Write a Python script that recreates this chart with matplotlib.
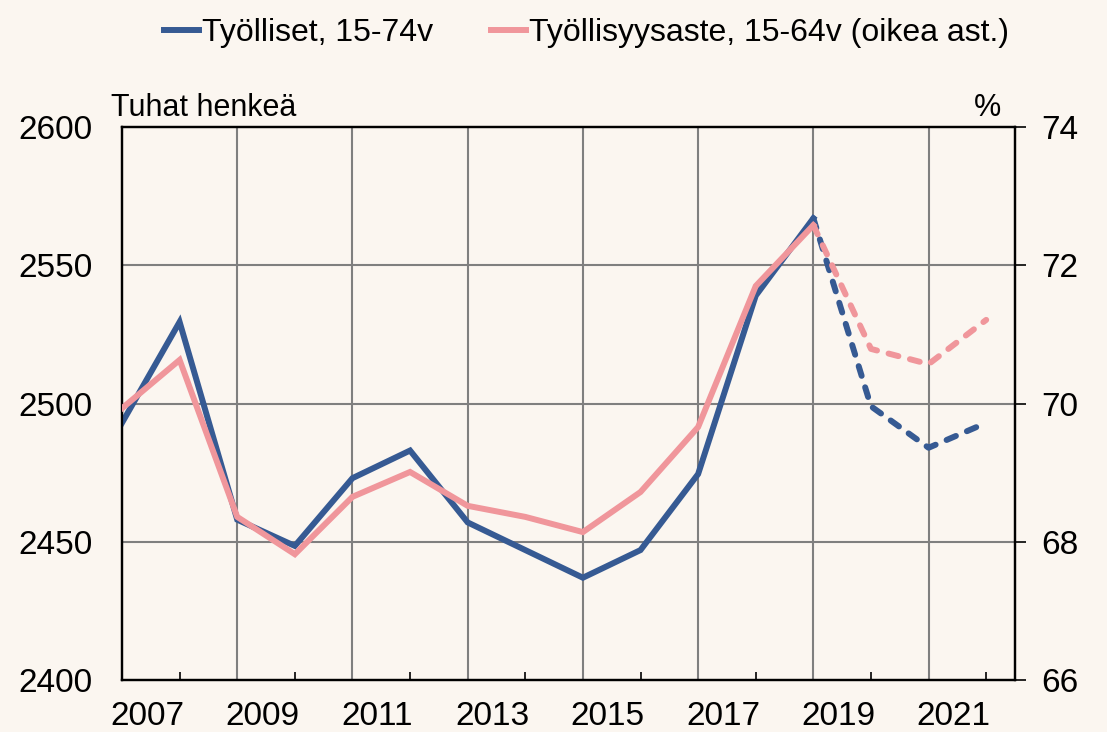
import matplotlib.pyplot as plt
import matplotlib.transforms as mtransforms

plt.rcParams['font.family'] = ['Liberation Sans', 'DejaVu Sans']

# data (annual, 2020-2022 forecast)
years = list(range(2007, 2023))
employed = [2493, 2529.5, 2458, 2448.5, 2473, 2483, 2457, 2447, 2437, 2447,
            2474.5, 2539, 2567, 2499, 2484, 2493]
emp_rate = [69.93, 70.63, 68.36, 67.82, 68.65, 69.01, 68.52, 68.36, 68.14, 68.72,
            69.66, 71.70, 72.58, 70.79, 70.57, 71.21]
forecast_start = 2019
label_years = list(range(2007, 2023, 2))

bg = '#FBF6F0'
blue = '#365A93'
pink = '#F0969B'
grid_col = '#7F7F7F'
fs = 24

fig = plt.figure(figsize=(11.07, 7.32), dpi=100, facecolor=bg)
ax = fig.add_axes([0.1102, 0.0710, 0.8067, 0.7555])
ax.set_facecolor(bg)
ax2 = ax.twinx()

i0 = years.index(forecast_start)
lw = 4.3
ax.plot(years[:i0 + 1], employed[:i0 + 1], color=blue, lw=lw, solid_joinstyle='miter', zorder=4)
ax.plot(years[i0:], employed[i0:], color=blue, lw=lw, ls=(0, (1.7, 2.0)),
        dash_capstyle='round', zorder=4)
ax2.plot(years[:i0 + 1], emp_rate[:i0 + 1], color=pink, lw=lw, solid_joinstyle='miter', zorder=3)
ax2.plot(years[i0:], emp_rate[i0:], color=pink, lw=lw, ls=(0, (1.7, 2.0)),
         dash_capstyle='round', zorder=3)

ax.set_xlim(2007, 2022.5)
ax.set_ylim(2400, 2600)
ax2.set_ylim(66, 74)
ax.set_yticks([2400, 2450, 2500, 2550, 2600])
ax2.set_yticks([66, 68, 70, 72, 74])

# grid
for y in [2450, 2500, 2550]:
    ax.axhline(y, color=grid_col, lw=1.5, zorder=1)
for x in range(2009, 2022, 2):
    ax.axvline(x, color=grid_col, lw=1.5, zorder=1)

ax.set_xticks(label_years)
ax.set_xticklabels([str(y) for y in label_years], fontsize=fs)
ax.set_xticks([y for y in years if y % 2 == 0], minor=True)
ax.tick_params(axis='x', which='major', length=0, pad=15)
ax.tick_params(axis='x', which='minor', direction='in', length=6, width=1.2, color='black')
offset = mtransforms.ScaledTranslation(0.25, 0, fig.dpi_scale_trans)
for lab in ax.get_xticklabels():
    lab.set_transform(lab.get_transform() + offset)

ax.tick_params(axis='y', length=0, pad=21, labelsize=fs)
ax2.tick_params(axis='y', direction='out', length=8, width=1.2, pad=11, labelsize=fs)

for a in (ax, ax2):
    for s in a.spines.values():
        s.set_color('black')
        s.set_linewidth(1.6)

ax.text(-0.012, 1.008, 'Tuhat henkeä', transform=ax.transAxes, fontsize=22,
        ha='left', va='bottom')
ax.text(0.984, 1.008, '%', transform=ax.transAxes, fontsize=22,
        ha='right', va='bottom')

handles = [plt.Line2D([], [], color=blue, lw=lw), plt.Line2D([], [], color=pink, lw=lw)]
fig.legend(handles, ['Työlliset, 15-74v', 'Työllisyysaste, 15-64v (oikea ast.)'],
           loc='upper left', bbox_to_anchor=(0.122, 1.015), ncol=2, frameon=False,
           fontsize=23, handlelength=1.1, handletextpad=0.1, columnspacing=1.8)

fig.savefig('out.png', dpi=100, facecolor=bg)
